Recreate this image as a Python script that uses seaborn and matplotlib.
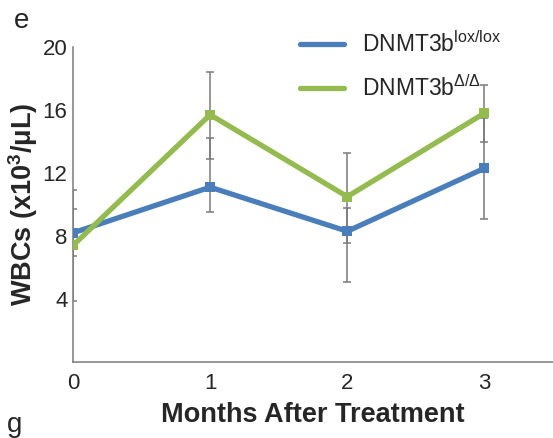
import numpy as np
import pandas as pd
import matplotlib
matplotlib.use("Agg")
import matplotlib.pyplot as plt
from matplotlib.lines import Line2D
import seaborn as sns

# Data: mean WBC counts (x10^3/uL) with lower / upper error-bar ends
months = [0, 1, 2, 3]
lox_mean = [8.2, 11.1, 8.3, 12.3]
lox_low = [6.7, 9.5, 5.1, 9.1]
lox_high = [9.7, 14.2, 9.8, 15.5]
del_mean = [7.4, 15.7, 10.5, 15.8]
del_low = [3.9, 12.9, 7.55, 14.0]
del_high = [10.9, 18.4, 13.3, 17.6]
groups = ["DNMT3b$^{\\mathrm{lox/lox}}$", "DNMT3b$^{\\mathrm{\u0394/\u0394}}$"]
y_ticks = [4, 8, 12, 16, 20]

sns.set_theme(style="white")
plt.rcParams["font.family"] = ["Liberation Sans", "DejaVu Sans"]
plt.rcParams["mathtext.fontset"] = "custom"
plt.rcParams["mathtext.rm"] = "Liberation Sans"
plt.rcParams["mathtext.it"] = "Liberation Sans:italic"
plt.rcParams["mathtext.bf"] = "Liberation Sans:bold"

colors = {groups[0]: "#4a7ebb", groups[1]: "#93bb4f"}

df = pd.DataFrame({
    "month": months * 2,
    "wbc": lox_mean + del_mean,
    "group": [groups[0]] * 4 + [groups[1]] * 4,
})

fig = plt.figure(figsize=(5.53, 4.38), dpi=100)
ax = fig.add_axes([0.132, 0.1735, 0.868, 0.7192])

# error bars underneath the lines
for mean, low, high in [(lox_mean, lox_low, lox_high), (del_mean, del_low, del_high)]:
    m = np.array(mean)
    yerr = np.vstack([m - np.array(low), np.array(high) - m])
    ax.errorbar(months, m, yerr=yerr, fmt="none", ecolor="#7a7a7a",
                elinewidth=1.1, capsize=3, capthick=1.1, zorder=1)

sns.lineplot(data=df, x="month", y="wbc", hue="group", palette=colors,
             marker="s", markersize=7.5, markeredgewidth=0, linewidth=3.8,
             ax=ax, legend=False, zorder=3)

ax.set_xlim(0, 3.5)
ax.set_ylim(0, 20)
ax.set_xticks(months)
ax.set_xticklabels([str(m) for m in months])
ax.set_yticks(y_ticks)
ax.set_yticks([2, 6, 10, 14, 18], minor=True)
ax.tick_params(axis="y", which="both", direction="inout", length=6, width=1,
               color="#7a7a7a", labelsize=16, pad=1)
ax.tick_params(axis="x", length=0, labelsize=16, pad=8)
for s in ["top", "right"]:
    ax.spines[s].set_visible(False)
for s in ["left", "bottom"]:
    ax.spines[s].set_color("#7a7a7a")
    ax.spines[s].set_linewidth(1.1)

ax.set_xlabel("Months After Treatment", fontsize=19.5, fontweight="bold", labelpad=6)
ax.set_ylabel("WBCs (x10$^{\\mathbf{3}}$/\u03bcL)", fontsize=19.5, fontweight="bold", labelpad=2)

handles = [Line2D([0], [0], color=colors[g], lw=3.8) for g in groups]
ax.legend(handles, groups, loc="upper right", bbox_to_anchor=(0.935, 1.115),
          frameon=False, fontsize=16.5, handlelength=1.9, labelspacing=0.8,
          handletextpad=0.8)

fig.text(0.025, 0.982, "e", fontsize=20, va="top")
fig.text(0.012, 0.0, "g", fontsize=20, va="bottom")

fig.savefig("out.png", dpi=100)
